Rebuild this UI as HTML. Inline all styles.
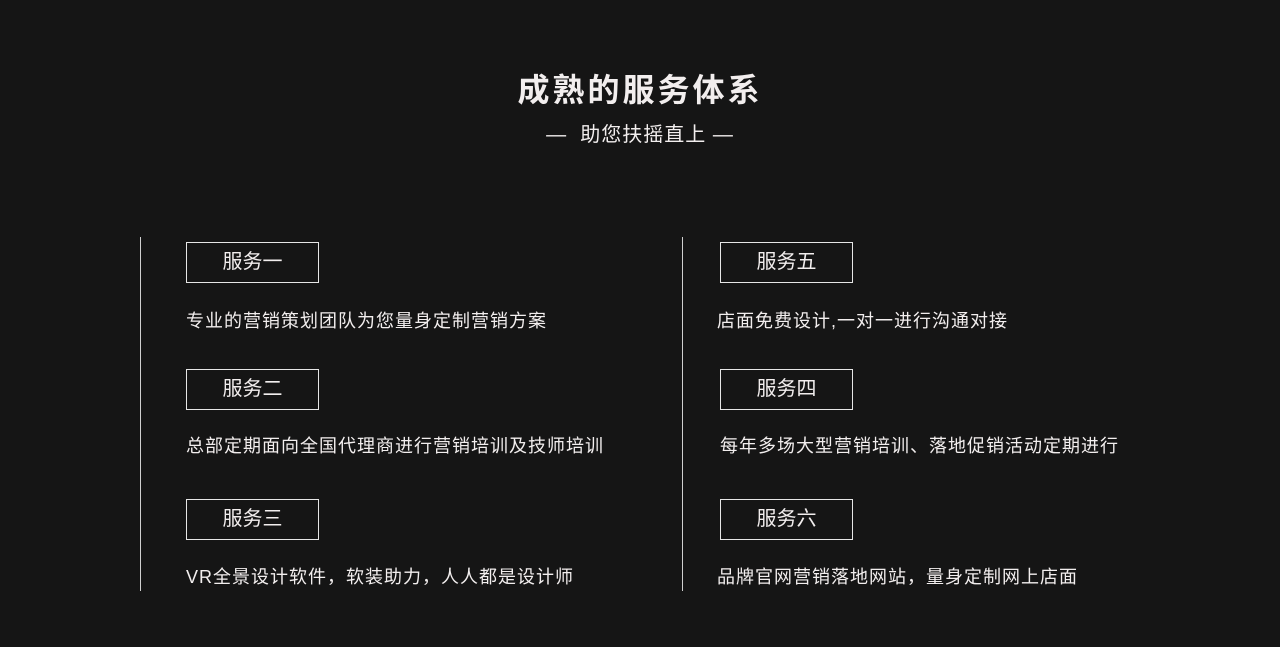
<!DOCTYPE html>
<html><head><meta charset="utf-8"><style>
body{margin:0;width:1280px;height:647px;background:#151515;overflow:hidden;position:relative;font-family:"Liberation Sans","Noto Sans CJK SC",sans-serif;color:#f2eeee}
.a{position:absolute;white-space:nowrap}
.t{left:0;width:1280px;text-align:center;top:70px;font-size:32px;font-weight:bold;line-height:40px;letter-spacing:3px}
.s{left:0;width:1280px;text-align:center;top:122px;font-size:20px;line-height:26px;letter-spacing:1px}
.v{position:absolute;width:1px;background:#cfcfcf;top:237px;height:354px}
.b{position:absolute;width:131px;height:39px;border:1px solid #e6e6e6;text-align:center;line-height:39px;font-size:20px}
.d{position:absolute;font-size:18px;line-height:24px;letter-spacing:1px}
</style></head><body>
<div class="a t">成熟的服务体系</div>
<div class="a s">— &nbsp;助您扶摇直上 —</div>
<div class="v" style="left:140px"></div>
<div class="v" style="left:682px"></div>
<div class="b" style="left:186px;top:242px">服务一</div>
<div class="d" style="left:186px;top:309px">专业的营销策划团队为您量身定制营销方案</div>
<div class="b" style="left:186px;top:369px">服务二</div>
<div class="d" style="left:186px;top:434px">总部定期面向全国代理商进行营销培训及技师培训</div>
<div class="b" style="left:186px;top:499px">服务三</div>
<div class="d" style="left:186px;top:565px">VR全景设计软件，软装助力，人人都是设计师</div>
<div class="b" style="left:720px;top:242px">服务五</div>
<div class="d" style="left:717px;top:309px">店面免费设计,一对一进行沟通对接</div>
<div class="b" style="left:720px;top:369px">服务四</div>
<div class="d" style="left:720px;top:434px">每年多场大型营销培训、落地促销活动定期进行</div>
<div class="b" style="left:720px;top:499px">服务六</div>
<div class="d" style="left:717px;top:565px">品牌官网营销落地网站，量身定制网上店面</div>
</body></html>
